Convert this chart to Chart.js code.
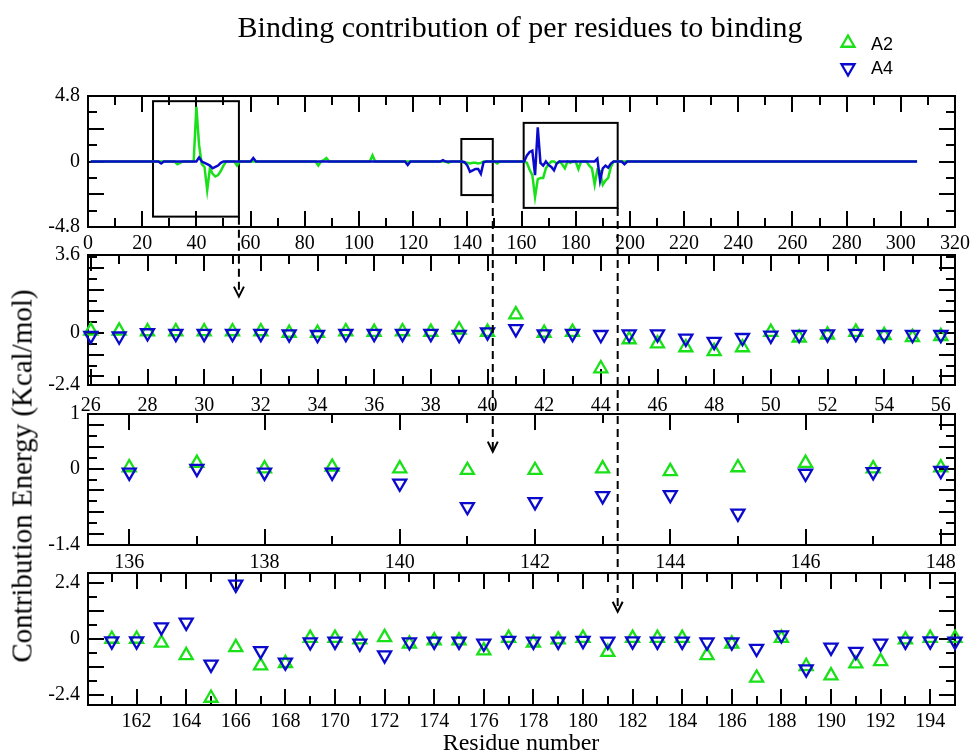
<!DOCTYPE html>
<html>
<head>
<meta charset="utf-8">
<script src="https://cdn.jsdelivr.net/npm/chart.js"></script>
<style>
html,body{margin:0;padding:0;background:#fff;}
#wrap{position:relative;width:971px;height:755px;overflow:hidden;background:#fff;}
canvas.panel{position:absolute;left:0;}
#overlay{position:absolute;left:0;top:0;pointer-events:none;}
#title{position:absolute;left:170px;width:700px;top:10px;text-align:center;font-family:'Liberation Serif',serif;font-size:30px;line-height:34px;color:#000;white-space:nowrap;}
.leg{position:absolute;left:871px;font-family:'Liberation Sans',sans-serif;font-size:18px;color:#000;line-height:20px;}
#ytitle{position:absolute;left:22px;top:476px;transform:translate(-50%,-50%) rotate(-90deg);font-family:'Liberation Serif',serif;font-size:29px;white-space:nowrap;color:#000;}
#xtitle{position:absolute;left:521px;top:742px;transform:translate(-50%,-50%);font-family:'Liberation Serif',serif;font-size:24px;white-space:nowrap;color:#000;}
</style>
</head>
<body>
<div id="wrap">
  <canvas class="panel" id="p1"></canvas>
  <canvas class="panel" id="p2"></canvas>
  <canvas class="panel" id="p3"></canvas>
  <canvas class="panel" id="p4"></canvas>
  <canvas id="overlay" width="971" height="755"></canvas>
  <div id="title">Binding contribution of per residues to binding</div>
  <div class="leg" style="top:34px;">A2</div>
  <div class="leg" style="top:58px;">A4</div>
  <div id="ytitle">Contribution Energy (Kcal/mol)</div>
  <div id="xtitle">Residue number</div>
</div>
<script>
// ---------------- DATA ----------------
const seriesNames = ['A2', 'A4'];
const seriesColors = ['#19e019', '#0a0acc'];

// Panel 1: whole sequence (line)
const topA2Res = [1, 32, 33, 34, 35, 39, 40, 41, 42, 43, 44, 45, 46, 47, 48, 49, 50, 51, 54, 55, 56,
  84, 85, 86, 87, 88, 89, 104, 105, 106, 132, 133, 134, 138, 139, 140, 141, 142, 143, 144, 145, 146,
  150, 151, 152, 161, 162, 163, 164, 165, 166, 167, 168, 169, 170, 171, 172, 173, 174, 175, 176, 177,
  178, 179, 180, 181, 182, 183, 184, 185, 186, 187, 188, 189, 190, 191, 192, 193, 194, 195, 306];
const topA2Val = [0, 0, -0.2, -0.1, 0, 0, 4.0, 1.2, -0.2, -0.4, -2.1, -0.5, -0.9, -1.1, -1.0, -0.7, -0.3, 0, 0, -0.3, 0,
  0, -0.3, 0, 0.1, 0.25, 0, 0, 0.45, 0, 0, -0.1, 0, 0, -0.1, -0.1, -0.15, -0.1, -0.1, -0.15, -0.1, 0,
  0, -0.15, 0, 0, -0.1, -0.6, -1.0, -2.6, -1.3, -1.2, -1.2, -0.5, -0.2, 0, 0, -0.15, 0, -0.2, -0.5, 0,
  -0.1, 0, 0, -0.55, 0, 0, 0, -0.3, -0.5, -1.7, -0.6, -0.7, -1.7, -1.4, -1.2, -0.4, 0, 0, 0];
const topA4Res = [1, 26, 27, 28, 40, 41, 42, 43, 44, 45, 46, 47, 48, 49, 50, 60, 61, 62, 117, 118, 119,
  130, 131, 132, 138, 139, 140, 141, 142, 143, 144, 145, 146, 147, 161, 162, 163, 164, 165, 166, 167,
  168, 169, 170, 171, 172, 173, 174, 187, 188, 189, 190, 191, 192, 193, 194, 197, 198, 199, 306];
const topA4Val = [0, 0, -0.15, 0, 0, 0.3, 0, -0.1, -0.2, -0.3, -0.5, -0.4, -0.3, -0.1, 0, 0, 0.25, 0, 0, -0.25, 0,
  0, 0.1, 0, 0, -0.05, -0.3, -0.75, -0.65, -0.55, -0.55, -0.9, -0.05, 0, 0, 0.45, 0.7, 0.8, -1.0, 2.5, -0.1,
  -0.3, 0, -0.25, -0.4, -0.65, -0.15, 0, 0, 0.2, -1.4, -0.5, -0.3, -0.45, -0.15, 0, 0, -0.2, 0, 0];

// Panel 2: residues 26-56
const p2Res = [26, 27, 28, 29, 30, 31, 32, 33, 34, 35, 36, 37, 38, 39, 40, 41, 42, 43, 44, 45, 46, 47, 48, 49, 50, 51, 52, 53, 54, 55, 56];
const p2A2 = [0.10, 0.10, 0.07, 0.07, 0.07, 0.07, 0.07, 0.00, 0.00, 0.07, 0.04, 0.07, 0.04, 0.15, 0.04, 0.85,
  0.00, 0.04, -1.64, -0.30, -0.49, -0.67, -0.85, -0.67, 0.04, -0.22, -0.08, 0.04, -0.11, -0.20, -0.15];
const p2A4 = [-0.12, -0.15, 0.00, -0.03, -0.03, -0.03, -0.03, -0.05, -0.08, -0.03, -0.03, -0.03, -0.03, -0.08, 0.04, 0.19,
  -0.05, -0.03, -0.08, -0.05, -0.05, -0.25, -0.40, -0.22, -0.11, -0.08, -0.05, -0.03, -0.08, -0.08, -0.08];

// Panel 3: residues 136-148
const p3Res = [136, 137, 138, 139, 140, 141, 142, 143, 144, 145, 146, 147, 148];
const p3A2 = [0.02, 0.10, 0.00, 0.03, 0.00, -0.03, -0.03, 0.00, -0.05, 0.02, 0.10, 0.00, 0.02];
const p3A4 = [-0.07, 0.00, -0.07, -0.07, -0.27, -0.70, -0.61, -0.50, -0.48, -0.82, -0.09, -0.06, -0.04];

// Panel 4: residues 161-195
const p4Res = [161, 162, 163, 164, 165, 166, 167, 168, 169, 170, 171, 172, 173, 174, 175, 176, 177, 178,
  179, 180, 181, 182, 183, 184, 185, 186, 187, 188, 189, 190, 191, 192, 193, 194, 195];
const p4A2 = [0.00, 0.00, -0.17, -0.70, -2.53, -0.36, -1.14, -1.04, 0.04, 0.04, -0.03, 0.07, -0.21, -0.07, -0.07, -0.50, 0.04, -0.17,
  -0.03, 0.04, -0.56, 0.04, 0.04, 0.04, -0.70, -0.21, -1.67, 0.04, -1.17, -1.57, -1.06, -0.96, -0.03, 0.04, 0.04];
const p4A4 = [-0.09, -0.09, 0.51, 0.71, -1.09, 2.34, -0.51, -1.00, -0.13, -0.10, -0.19, -0.69, -0.13, -0.10, -0.10, -0.19, -0.07, -0.10,
  -0.10, -0.07, -0.10, -0.09, -0.10, -0.10, -0.14, -0.14, -0.41, 0.17, -1.29, -0.36, -0.54, -0.19, -0.10, -0.09, -0.10];

// Tick labels
const p1XTicks = [0, 20, 40, 60, 80, 100, 120, 140, 160, 180, 200, 220, 240, 260, 280, 300, 320];
const p1XLabels = ['0', '20', '40', '60', '80', '100', '120', '140', '160', '180', '200', '220', '240', '260', '280', '300', '320'];
const p1YTicks = [4.8, 0, -4.8];
const p1YLabels = ['4.8', '0', '-4.8'];
const p2XTicks = [26, 28, 30, 32, 34, 36, 38, 40, 42, 44, 46, 48, 50, 52, 54, 56];
const p2XLabels = ['26', '28', '30', '32', '34', '36', '38', '40', '42', '44', '46', '48', '50', '52', '54', '56'];
const p2YTicks = [3.6, 0, -2.4];
const p2YLabels = ['3.6', '0', '-2.4'];
const p3XTicks = [136, 138, 140, 142, 144, 146, 148];
const p3XLabels = ['136', '138', '140', '142', '144', '146', '148'];
const p3YTicks = [1, 0, -1.4];
const p3YLabels = ['1', '0', '-1.4'];
const p4XTicks = [162, 164, 166, 168, 170, 172, 174, 176, 178, 180, 182, 184, 186, 188, 190, 192, 194];
const p4XLabels = ['162', '164', '166', '168', '170', '172', '174', '176', '178', '180', '182', '184', '186', '188', '190', '192', '194'];
const p4YTicks = [2.4, 0, -2.4];
const p4YLabels = ['2.4', '0', '-2.4'];

// Zoom boxes on panel 1 (residue range and energy range)
const boxResStart = [24.0, 137.8, 160.8];
const boxResEnd = [55.7, 149.4, 195.5];
const boxLow = [-4.04, -2.46, -3.4];
const boxHigh = [4.42, 1.65, 2.83];
// where each arrow ends, in the energy units of the panel it points into
const arrowTipValue = [1.68, 0.31, 1.17];

// ---------------- LAYOUT / STYLE ----------------
const PLOT_LEFT = 88, PLOT_RIGHT = 955;
const panels = [
  {id: 'p1', top: 96, bottom: 227, xmin: 0, xmax: 320, ymin: -4.8, ymax: 4.8,
   xMinor: 10, xMajor: 20, yMinor: 1.2, yMajor: 2.4, xPad: 5},
  {id: 'p2', top: 255, bottom: 385, xmin: 25.9, xmax: 56.5, ymin: -2.4, ymax: 3.6,
   xMinor: 1, xMajor: 2, yMinor: 0.5, yMajor: 1, xPad: 9},
  {id: 'p3', top: 414, bottom: 545, xmin: 135.39, xmax: 148.21, ymin: -1.4, ymax: 1,
   xMinor: 1, xMajor: 2, yMinor: 0.2, yMajor: 0.4, xPad: 6},
  {id: 'p4', top: 573, bottom: 705, xmin: 160.04, xmax: 195.0, ymin: -2.83, ymax: 2.83,
   xMinor: 1, xMajor: 2, yMinor: 0.6, yMajor: 1.2, xPad: 5}
];
const TOP_PAD = 12, XAXIS_H = 40;
const tickFont = {family: "'Liberation Serif', 'Times New Roman', serif", size: 20};

function genTicks(min, max, minor, major) {
  const out = [];
  const start = Math.ceil(min / minor - 1e-6);
  for (let k = start; k * minor <= max + 1e-6; k++) {
    const v = k * minor;
    const r = v / major;
    out.push([v, Math.abs(r - Math.round(r)) < 1e-6]);
  }
  return out;
}

const framePlugin = {
  id: 'frameTicks',
  beforeDatasetsDraw(chart) {
    const o = chart.options.plugins.frameTicks;
    const {ctx, chartArea: a} = chart;
    const xs = chart.scales.x, ys = chart.scales.y;
    ctx.save();
    ctx.strokeStyle = '#000';
    ctx.lineWidth = 2;
    ctx.lineCap = 'butt';
    ctx.strokeRect(a.left, a.top, a.right - a.left, a.bottom - a.top);
    const MAJ = 16, MIN = 9;
    ctx.beginPath();
    genTicks(xs.min, xs.max, o.xMinor, o.xMajor).forEach(([v, maj]) => {
      const px = Math.round(xs.getPixelForValue(v));
      if (px < a.left + 1.5 || px > a.right - 1.5) return;
      const L = maj ? MAJ : MIN;
      ctx.moveTo(px, a.bottom); ctx.lineTo(px, a.bottom - L);
      ctx.moveTo(px, a.top); ctx.lineTo(px, a.top + L);
    });
    genTicks(ys.min, ys.max, o.yMinor, o.yMajor).forEach(([v, maj]) => {
      const py = Math.round(ys.getPixelForValue(v));
      if (py < a.top + 1.5 || py > a.bottom - 1.5) return;
      const L = maj ? MAJ : MIN;
      ctx.moveTo(a.left, py); ctx.lineTo(a.left + L, py);
      ctx.moveTo(a.right, py); ctx.lineTo(a.right - L, py);
    });
    ctx.stroke();
    if (o.boxes) {
      for (let i = 0; i < boxResStart.length; i++) {
        const x1 = xs.getPixelForValue(boxResStart[i]), x2 = xs.getPixelForValue(boxResEnd[i]);
        const y1 = ys.getPixelForValue(boxHigh[i]), y2 = ys.getPixelForValue(boxLow[i]);
        ctx.strokeRect(x1, y1, x2 - x1, y2 - y1);
      }
    }
    ctx.restore();
  }
};

function makeScale(axis, p, tickVals, tickLabels) {
  return {
    type: 'linear',
    position: axis === 'x' ? 'bottom' : 'left',
    min: axis === 'x' ? p.xmin : p.ymin,
    max: axis === 'x' ? p.xmax : p.ymax,
    grid: {display: false, drawTicks: false},
    border: {display: false},
    ticks: {
      font: tickFont, color: '#000', autoSkip: false, maxRotation: 0, minRotation: 0,
      padding: axis === 'x' ? p.xPad : 8,
      callback: (v, i) => tickLabels[i]
    },
    afterBuildTicks: s => { s.ticks = tickVals.map(v => ({value: v})); },
    afterFit: s => {
      if (axis === 'x') s.height = XAXIS_H; else s.width = PLOT_LEFT;
      s.paddingLeft = 0; s.paddingRight = 0; s.paddingTop = 0; s.paddingBottom = 0;
    }
  };
}

function pts(xs, ys) { return xs.map((x, i) => ({x: x, y: ys[i]})); }

function markerSet(label, xs, ys, idx) {
  return {
    label: label, data: pts(xs, ys), showLine: false,
    pointStyle: 'triangle', rotation: idx === 0 ? 0 : 180,
    pointRadius: 7.5, pointHoverRadius: 7.5, pointBorderWidth: 2.3,
    borderColor: seriesColors[idx], pointBorderColor: seriesColors[idx],
    backgroundColor: 'rgba(0,0,0,0)', pointBackgroundColor: 'rgba(0,0,0,0)',
    clip: false, order: idx === 0 ? 1 : 0
  };
}
function lineSet(label, xs, ys, idx) {
  return {
    label: label, data: pts(xs, ys), showLine: true, borderColor: seriesColors[idx],
    backgroundColor: seriesColors[idx], borderWidth: 2.5, pointRadius: 0, tension: 0,
    clip: false, order: idx === 0 ? 1 : 0
  };
}

const panelData = [
  {datasets: [lineSet(seriesNames[0], topA2Res, topA2Val, 0), lineSet(seriesNames[1], topA4Res, topA4Val, 1)],
   xt: [p1XTicks, p1XLabels], yt: [p1YTicks, p1YLabels]},
  {datasets: [markerSet(seriesNames[0], p2Res, p2A2, 0), markerSet(seriesNames[1], p2Res, p2A4, 1)],
   xt: [p2XTicks, p2XLabels], yt: [p2YTicks, p2YLabels]},
  {datasets: [markerSet(seriesNames[0], p3Res, p3A2, 0), markerSet(seriesNames[1], p3Res, p3A4, 1)],
   xt: [p3XTicks, p3XLabels], yt: [p3YTicks, p3YLabels]},
  {datasets: [markerSet(seriesNames[0], p4Res, p4A2, 0), markerSet(seriesNames[1], p4Res, p4A4, 1)],
   xt: [p4XTicks, p4XLabels], yt: [p4YTicks, p4YLabels]}
];

const charts = panels.map((p, i) => {
  const cv = document.getElementById(p.id);
  const H = p.bottom - p.top + TOP_PAD + XAXIS_H;
  const T = p.top - TOP_PAD;
  cv.width = 971; cv.height = H;
  cv.style.width = '971px'; cv.style.height = H + 'px';
  cv.style.top = T + 'px';
  const pd = panelData[i];
  const ch = new Chart(cv, {
    type: 'scatter',
    data: {datasets: pd.datasets},
    options: {
      responsive: false, animation: false, devicePixelRatio: 1, events: [],
      layout: {padding: {top: TOP_PAD, right: 971 - PLOT_RIGHT, left: 0, bottom: 0}},
      scales: {x: makeScale('x', p, pd.xt[0], pd.xt[1]), y: makeScale('y', p, pd.yt[0], pd.yt[1])},
      plugins: {
        legend: {display: false}, tooltip: {enabled: false}, title: {display: false},
        frameTicks: {xMinor: p.xMinor, xMajor: p.xMajor, yMinor: p.yMinor, yMajor: p.yMajor, boxes: i === 0}
      }
    },
    plugins: [framePlugin]
  });
  ch._pageTop = T;
  return ch;
});

// ---------------- OVERLAY: arrows + legend markers ----------------
const ov = document.getElementById('overlay');
const octx = ov.getContext('2d');
octx.strokeStyle = '#000';
octx.lineWidth = 2;
const c1 = charts[0];
for (let i = 0; i < boxResEnd.length; i++) {
  const x = c1.scales.x.getPixelForValue(boxResEnd[i]);
  const y0 = c1.scales.y.getPixelForValue(boxLow[i]) + c1._pageTop;
  const tgt = charts[i + 1];
  const y1 = tgt.scales.y.getPixelForValue(arrowTipValue[i]) + tgt._pageTop;
  octx.save();
  octx.setLineDash([8, 5]);
  octx.beginPath(); octx.moveTo(x, y0); octx.lineTo(x, y1 - 2); octx.stroke();
  octx.restore();
  octx.beginPath();
  octx.moveTo(x - 5, y1 - 10); octx.lineTo(x, y1); octx.lineTo(x + 5, y1 - 10);
  octx.stroke();
}
// legend markers
const legendY = [43, 68];
for (let i = 0; i < 2; i++) {
  octx.save();
  octx.strokeStyle = seriesColors[i];
  octx.fillStyle = 'rgba(0,0,0,0)';
  octx.lineWidth = 2.3;
  Chart.helpers.drawPoint(octx, {pointStyle: 'triangle', rotation: i === 0 ? 0 : 180, radius: 7.5, borderWidth: 2.3}, 848, legendY[i]);
  octx.restore();
}
</script>
</body>
</html>
